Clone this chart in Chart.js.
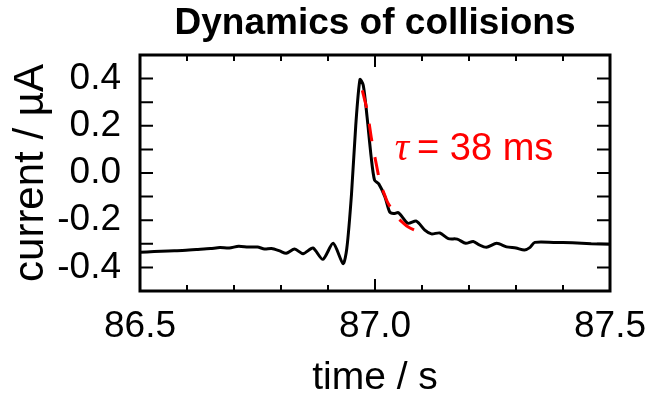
<!DOCTYPE html>
<html><head><meta charset="utf-8">
<script src="https://cdn.jsdelivr.net/npm/chart.js@4"></script>
<style>html,body{margin:0;padding:0;background:#fff}</style>
</head><body>
<canvas id="c" width="649" height="398" style="width:649px;height:398px;display:block"></canvas>
<script>
// ---- data ----
const timeS = [86.500,86.530,86.560,86.590,86.620,86.650,86.670,86.690,86.710,86.730,86.750,86.765,86.780,86.797,86.811,86.829,86.847,86.868,86.889,86.911,86.932,86.940,86.950,86.959,86.968,86.975,86.983,86.992,86.999,87.008,87.021,87.031,87.040,87.050,87.070,87.088,87.106,87.120,87.138,87.156,87.175,87.193,87.209,87.222,87.237,87.259,87.280,87.300,87.318,87.330,87.340,87.380,87.420,87.460,87.500];
const currentUA = [-0.336,-0.333,-0.330,-0.328,-0.324,-0.320,-0.316,-0.318,-0.310,-0.314,-0.314,-0.322,-0.320,-0.330,-0.340,-0.322,-0.342,-0.318,-0.366,-0.298,-0.384,-0.320,-0.090,0.200,0.396,0.372,0.240,0.065,-0.030,-0.046,-0.100,-0.164,-0.172,-0.168,-0.213,-0.204,-0.242,-0.258,-0.254,-0.278,-0.280,-0.298,-0.290,-0.305,-0.315,-0.298,-0.313,-0.318,-0.326,-0.315,-0.294,-0.294,-0.296,-0.300,-0.302];
const fitTimeS = [86.973,86.978,86.983,86.988,86.992,86.997,87.003,87.008,87.014,87.020,87.026,87.036,87.046,87.058,87.070,87.086,87.102];
const fitCurrentUA = [0.350,0.310,0.268,0.205,0.150,0.095,0.035,-0.015,-0.060,-0.090,-0.121,-0.155,-0.185,-0.208,-0.228,-0.244,-0.256];
const xTickLabels = ['86.5','87.0','87.5'];
const yTickLabels = ['-0.4','-0.2','0.0','0.2','0.4'];
const titleText = 'Dynamics of collisions';
const xTitle = 'time / s';
const yTitle = 'current / µA';
const tauSymbol = 'τ';
const fitLabel = '= 38 ms';
const fitLabelAt = [87.042, 0.1];

const FONT = '"Liberation Sans", Arial, sans-serif';
const toPts = (xs, ys) => xs.map((x, i) => ({x, y: ys[i]}));

const framePlugin = {
  id: 'frame',
  afterDatasetsDraw(chart) {
    const {ctx, chartArea: a, scales: {x, y}} = chart;
    ctx.save();
    ctx.strokeStyle = '#000';
    ctx.lineWidth = 2;
    ctx.beginPath();
    x.ticks.forEach(t => {
      const px = x.getPixelForValue(t.value);
      if (px <= a.left + 1 || px >= a.right - 1) return;
      const len = xTickLabels.includes(t.value.toFixed(1)) ? 12 : 6;
      ctx.moveTo(px, a.bottom); ctx.lineTo(px, a.bottom - len);
      ctx.moveTo(px, a.top); ctx.lineTo(px, a.top + len);
    });
    y.ticks.forEach(t => {
      const py = y.getPixelForValue(t.value);
      if (py <= a.top + 1 || py >= a.bottom - 1) return;
      const len = 13;
      ctx.moveTo(a.left, py); ctx.lineTo(a.left + len, py);
      ctx.moveTo(a.right, py); ctx.lineTo(a.right - len, py);
    });
    ctx.stroke();
    ctx.lineWidth = 3;
    ctx.strokeRect(a.left, a.top, a.width, a.height);
    // fit annotation
    const lx = x.getPixelForValue(fitLabelAt[0]);
    const ly = y.getPixelForValue(fitLabelAt[1]);
    ctx.fillStyle = '#ff0000';
    ctx.textBaseline = 'middle';
    ctx.textAlign = 'left';
    ctx.font = 'italic 40px "Liberation Serif", "Times New Roman", serif';
    ctx.fillText(tauSymbol, lx, ly);
    const w = ctx.measureText(tauSymbol).width;
    ctx.font = '38px ' + FONT;
    ctx.fillText(fitLabel, lx + w + 8, ly);
    ctx.restore();
  }
};

new Chart(document.getElementById('c'), {
  type: 'scatter',
  data: {
    datasets: [
      {data: toPts(fitTimeS, fitCurrentUA), showLine: true, borderColor: '#ff0000', borderWidth: 3,
       borderDash: [18, 16], pointRadius: 0, tension: 0.3, fill: false},
      {data: toPts(timeS, currentUA), showLine: true, borderColor: '#000', borderWidth: 3,
       pointRadius: 0, tension: 0.25, fill: false}
    ]
  },
  options: {
    responsive: false,
    animation: false,
    layout: {padding: {left: 0, right: 39, top: 0, bottom: 0}},
    plugins: {
      legend: {display: false},
      tooltip: {enabled: false},
      title: {display: true, text: titleText, fullSize: false, color: '#000',
              font: {family: FONT, size: 37, weight: 'bold', lineHeight: 1.2}, padding: {top: 2, bottom: 8.6}}
    },
    scales: {
      x: {
        type: 'linear', min: 86.5, max: 87.5,
        grid: {display: false, drawTicks: false}, border: {display: false},
        ticks: {stepSize: 0.1, autoSkip: false, maxRotation: 0, color: '#000', padding: 14,
                font: {family: FONT, size: 37},
                callback: v => { const s = Number(v).toFixed(1); return xTickLabels.includes(s) ? s : ''; }},
        title: {display: true, text: xTitle, color: '#000', font: {family: FONT, size: 39, lineHeight: 1}, padding: {top: 0, bottom: 0}},
        afterFit: s => { s.height = 107; s.paddingLeft = 0; s.paddingRight = 0; }
      },
      y: {
        type: 'linear', min: -0.5, max: 0.5,
        grid: {display: false, drawTicks: false}, border: {display: false},
        ticks: {stepSize: 0.1, autoSkip: false, color: '#000', padding: 19,
                font: {family: FONT, size: 37},
                callback: v => { const s = Number(v).toFixed(1).replace('-0.0', '0.0'); return yTickLabels.includes(s) ? s : ''; }},
        title: {display: true, text: yTitle, color: '#000', font: {family: FONT, size: 42, lineHeight: 1}, padding: {top: 10, bottom: 0}},
        afterFit: s => { s.width = 140; s.paddingTop = 0; s.paddingBottom = 0; }
      }
    }
  },
  plugins: [framePlugin]
});
</script>
</body></html>
